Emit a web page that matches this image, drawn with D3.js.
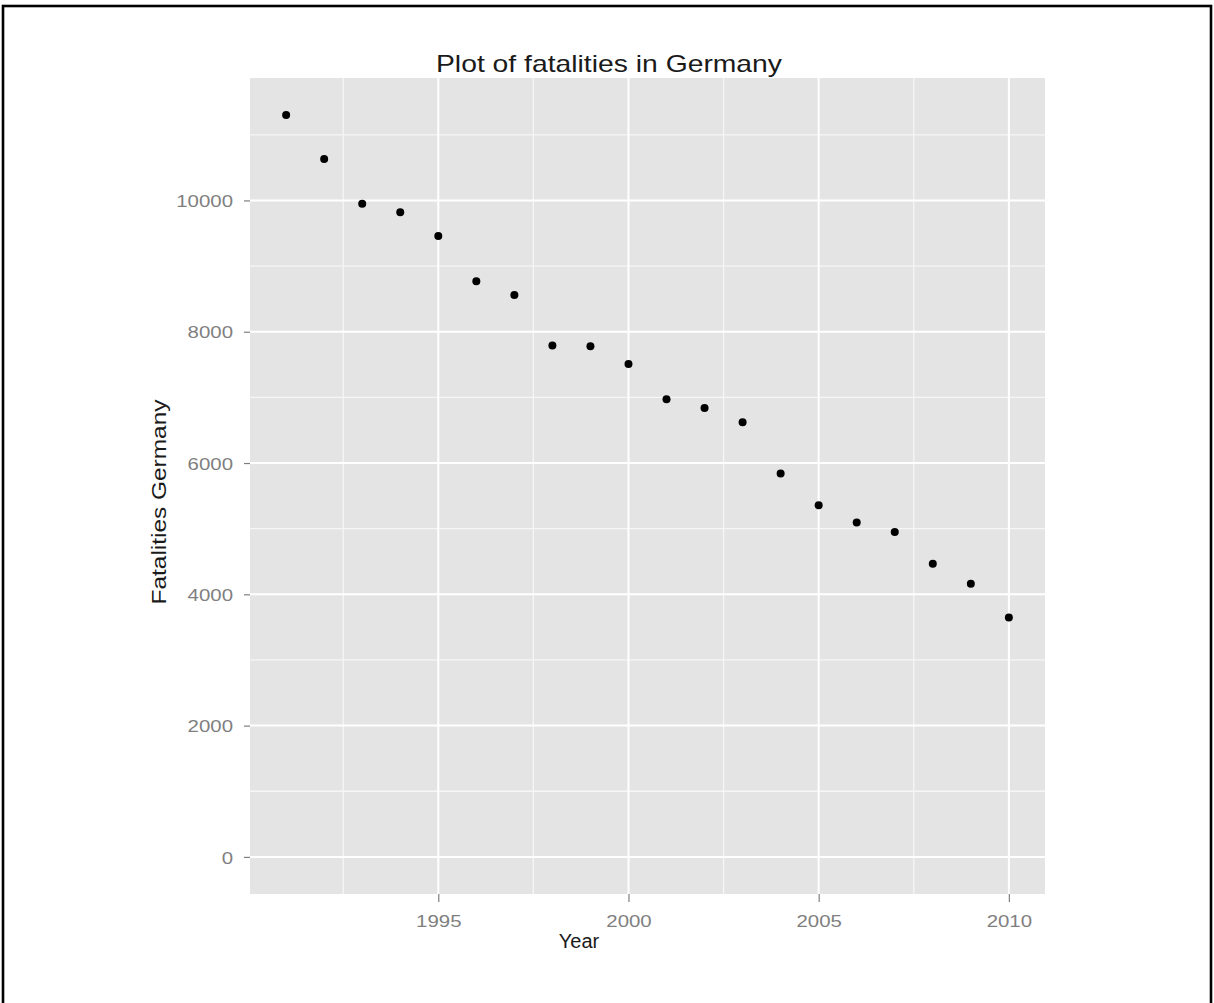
<!DOCTYPE html>
<html>
<head>
<meta charset="utf-8">
<script src="https://cdn.jsdelivr.net/npm/d3@7"></script>
<style>
  html, body { margin: 0; padding: 0; background: #ffffff; }
  svg { display: block; }
  text { font-family: "Liberation Sans", Arial, sans-serif; }
</style>
</head>
<body>
<svg id="chart" width="1214" height="1003"></svg>
<script>
// ---- data ----
const years = [1991, 1992, 1993, 1994, 1995, 1996, 1997, 1998, 1999, 2000,
               2001, 2002, 2003, 2004, 2005, 2006, 2007, 2008, 2009, 2010];
const fatalities = [11300, 10630, 9950, 9820, 9460, 8770, 8560, 7790, 7780, 7510,
                    6970, 6840, 6620, 5840, 5355, 5095, 4950, 4465, 4160, 3645];
const xTickValues = [1995, 2000, 2005, 2010];
const xMinorValues = [1992.5, 1997.5, 2002.5, 2007.5];
const yTickValues = [0, 2000, 4000, 6000, 8000, 10000];
const yMinorValues = [1000, 3000, 5000, 7000, 9000, 11000];
const titleText = "Plot of fatalities in Germany";
const xTitle = "Year";
const yTitle = "Fatalities Germany";

// ---- layout ----
const svg = d3.select("#chart");
const panel = { left: 250, right: 1045, top: 78, bottom: 894 };

// outer frame
svg.append("rect")
  .attr("x", 3).attr("y", 6)
  .attr("width", 1208).attr("height", 1010)
  .attr("fill", "none").attr("stroke", "#000").attr("stroke-width", 2.6);

const xMin = d3.min(years), xMax = d3.max(years);
const xPad = (xMax - xMin) * 0.05;
const x = d3.scaleLinear().domain([xMin - xPad, xMax + xPad]).range([panel.left, panel.right]);
const yLo = 0, yHi = d3.max(fatalities);
const yPad = (yHi - yLo) * 0.05;
const y = d3.scaleLinear().domain([yLo - yPad, yHi + yPad]).range([panel.bottom, panel.top]);

// panel background
svg.append("rect")
  .attr("x", panel.left).attr("y", panel.top)
  .attr("width", panel.right - panel.left).attr("height", panel.bottom - panel.top)
  .attr("fill", "#e4e4e4");

const grid = svg.append("g");
// minor grid
grid.selectAll("line.ymin").data(yMinorValues).enter().append("line")
  .attr("x1", panel.left).attr("x2", panel.right)
  .attr("y1", d => y(d)).attr("y2", d => y(d))
  .attr("stroke", "#f6f6f6").attr("stroke-width", 1.3);
grid.selectAll("line.xmin").data(xMinorValues).enter().append("line")
  .attr("y1", panel.top).attr("y2", panel.bottom)
  .attr("x1", d => x(d)).attr("x2", d => x(d))
  .attr("stroke", "#f6f6f6").attr("stroke-width", 1.3);
// major grid
grid.selectAll("line.ymaj").data(yTickValues).enter().append("line")
  .attr("x1", panel.left).attr("x2", panel.right)
  .attr("y1", d => y(d)).attr("y2", d => y(d))
  .attr("stroke", "#ffffff").attr("stroke-width", 2);
grid.selectAll("line.xmaj").data(xTickValues).enter().append("line")
  .attr("y1", panel.top).attr("y2", panel.bottom)
  .attr("x1", d => x(d)).attr("x2", d => x(d))
  .attr("stroke", "#ffffff").attr("stroke-width", 2);

// points
svg.append("g").selectAll("circle").data(years).enter().append("circle")
  .attr("cx", (d) => x(d))
  .attr("cy", (d, i) => y(fatalities[i]))
  .attr("r", 4)
  .attr("fill", "#000");

// axes
const stretch = 1.2;
function styleAxis(g) {
  g.select(".domain").remove();
  g.selectAll(".tick line").attr("stroke", "#7f7f7f").attr("stroke-width", 1.2);
  g.selectAll(".tick text")
    .attr("fill", "#7f7f7f")
    .style("font-size", "17px")
    .each(function () {
      const len = this.getComputedTextLength();
      d3.select(this).attr("textLength", len * stretch).attr("lengthAdjust", "spacingAndGlyphs");
    });
}

const yAxis = d3.axisLeft(y).tickValues(yTickValues).tickFormat(d3.format("d"))
  .tickSizeInner(6).tickSizeOuter(0).tickPadding(11);
svg.append("g").attr("transform", `translate(${panel.left},0)`).call(yAxis).call(styleAxis)
  .selectAll(".tick text").attr("dy", "0.36em");

const xAxis = d3.axisBottom(x).tickValues(xTickValues).tickFormat(d3.format("d"))
  .tickSizeInner(8).tickSizeOuter(0).tickPadding(13);
svg.append("g").attr("transform", `translate(0,${panel.bottom})`).call(xAxis).call(styleAxis);

// title
const t = svg.append("text")
  .attr("x", 609).attr("y", 72)
  .attr("text-anchor", "middle")
  .style("font-size", "24px").attr("fill", "#1a1a1a")
  .text(titleText);
t.attr("textLength", 346).attr("lengthAdjust", "spacingAndGlyphs");

// x title
svg.append("text")
  .attr("x", 579).attr("y", 948)
  .attr("text-anchor", "middle")
  .style("font-size", "20px").attr("fill", "#1a1a1a")
  .text(xTitle);

// y title
svg.append("text")
  .attr("transform", "translate(166,502) rotate(-90)")
  .attr("text-anchor", "middle")
  .style("font-size", "20px").attr("fill", "#1a1a1a")
  .attr("textLength", 205).attr("lengthAdjust", "spacingAndGlyphs")
  .text(yTitle);
</script>
</body>
</html>
